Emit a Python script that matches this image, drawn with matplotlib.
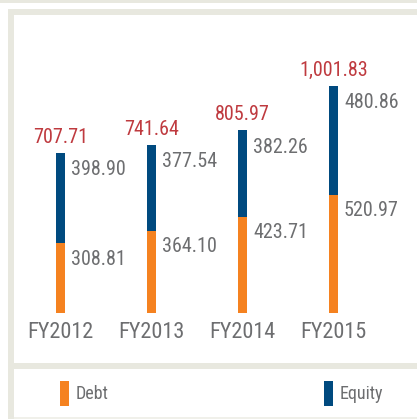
import matplotlib
matplotlib.use("Agg")
import matplotlib.pyplot as plt
from matplotlib.patches import Rectangle

categories = ["FY2012", "FY2013", "FY2014", "FY2015"]
debt = [308.81, 364.10, 423.71, 520.97]
equity = [398.90, 377.54, 382.26, 480.86]
totals = [707.71, 741.64, 805.97, 1001.83]
total_labels = ["707.71", "741.64", "805.97", "1,001.83"]
legend_labels = ["Debt", "Equity"]

ORANGE = "#f58220"
BLUE = "#004a7f"
RED = "#bf3a3f"
GRAY = "#6d6e70"
BEIGE = "#e8e8df"
FONT = ["Roboto Condensed", "DejaVu Sans"]
WEIGHT = "normal"

W, H = 417, 419
fig = plt.figure(figsize=(W / 100, H / 100), dpi=100)
fig.patch.set_facecolor("white")

def px_rect(x, y, w, h, color):
    # x, y from top-left in pixels
    fig.add_artist(Rectangle((x / W, 1 - (y + h) / H), w / W, h / H,
                             transform=fig.transFigure, facecolor=color,
                             edgecolor="none", zorder=0))

px_rect(0, 0, W, 3, BEIGE)
px_rect(8, 9, W - 8, 6, BEIGE)
px_rect(8, 9, 6, H - 9, BEIGE)
px_rect(14, 363, W - 14, 6, BEIGE)
px_rect(14, 417, W - 14, 2, "#f0f0ea")

# axes: baseline at y=313px, max total at y=86px; bar centers 60.5..333.5 px
base_px, top_px = 313, 86
left_px, right_px = 60.5, 333.5
ax = fig.add_axes([left_px / W, 1 - base_px / H, (right_px - left_px) / W,
                   (base_px - top_px) / H])
ax.set_xlim(0, len(categories) - 1)
ax.set_ylim(0, max(totals))
ax.axis("off")
ax.patch.set_visible(False)

x = list(range(len(categories)))
bw = 9 / 91
ax.bar(x, debt, width=bw, color=ORANGE, clip_on=False)
ax.bar(x, equity, width=bw, bottom=debt, color=BLUE, clip_on=False)

for i in x:
    ax.annotate(f"{debt[i]:.2f}", (i + bw / 2, debt[i]), xytext=(6, -16),
                textcoords="offset pixels", ha="left", va="center",
                fontsize=14.5, color=GRAY, family=FONT, weight=WEIGHT,
                annotation_clip=False)
    ax.annotate(f"{equity[i]:.2f}", (i + bw / 2, totals[i]), xytext=(6, -17),
                textcoords="offset pixels", ha="left", va="center",
                fontsize=14.5, color=GRAY, family=FONT, weight=WEIGHT,
                annotation_clip=False)
    ax.annotate(total_labels[i], (i, totals[i]), xytext=(0, 6),
                textcoords="offset pixels", ha="center", va="bottom",
                fontsize=14.5, color=RED, family=FONT, weight=WEIGHT,
                annotation_clip=False)
    ax.annotate(categories[i], (i, 0), xytext=(0, -9),
                textcoords="offset pixels", ha="center", va="top",
                fontsize=16, color=GRAY, family=FONT, weight=WEIGHT,
                annotation_clip=False)

# legend
for (lx, color, label) in [(60, ORANGE, legend_labels[0]), (324, BLUE, legend_labels[1])]:
    px_rect(lx, 381, 9, 25, color)
    fig.text((lx + 16) / W, 1 - 394 / H, label, ha="left", va="center",
             fontsize=13, color=GRAY, family=FONT, weight=WEIGHT)

fig.savefig("out.png", dpi=100)
